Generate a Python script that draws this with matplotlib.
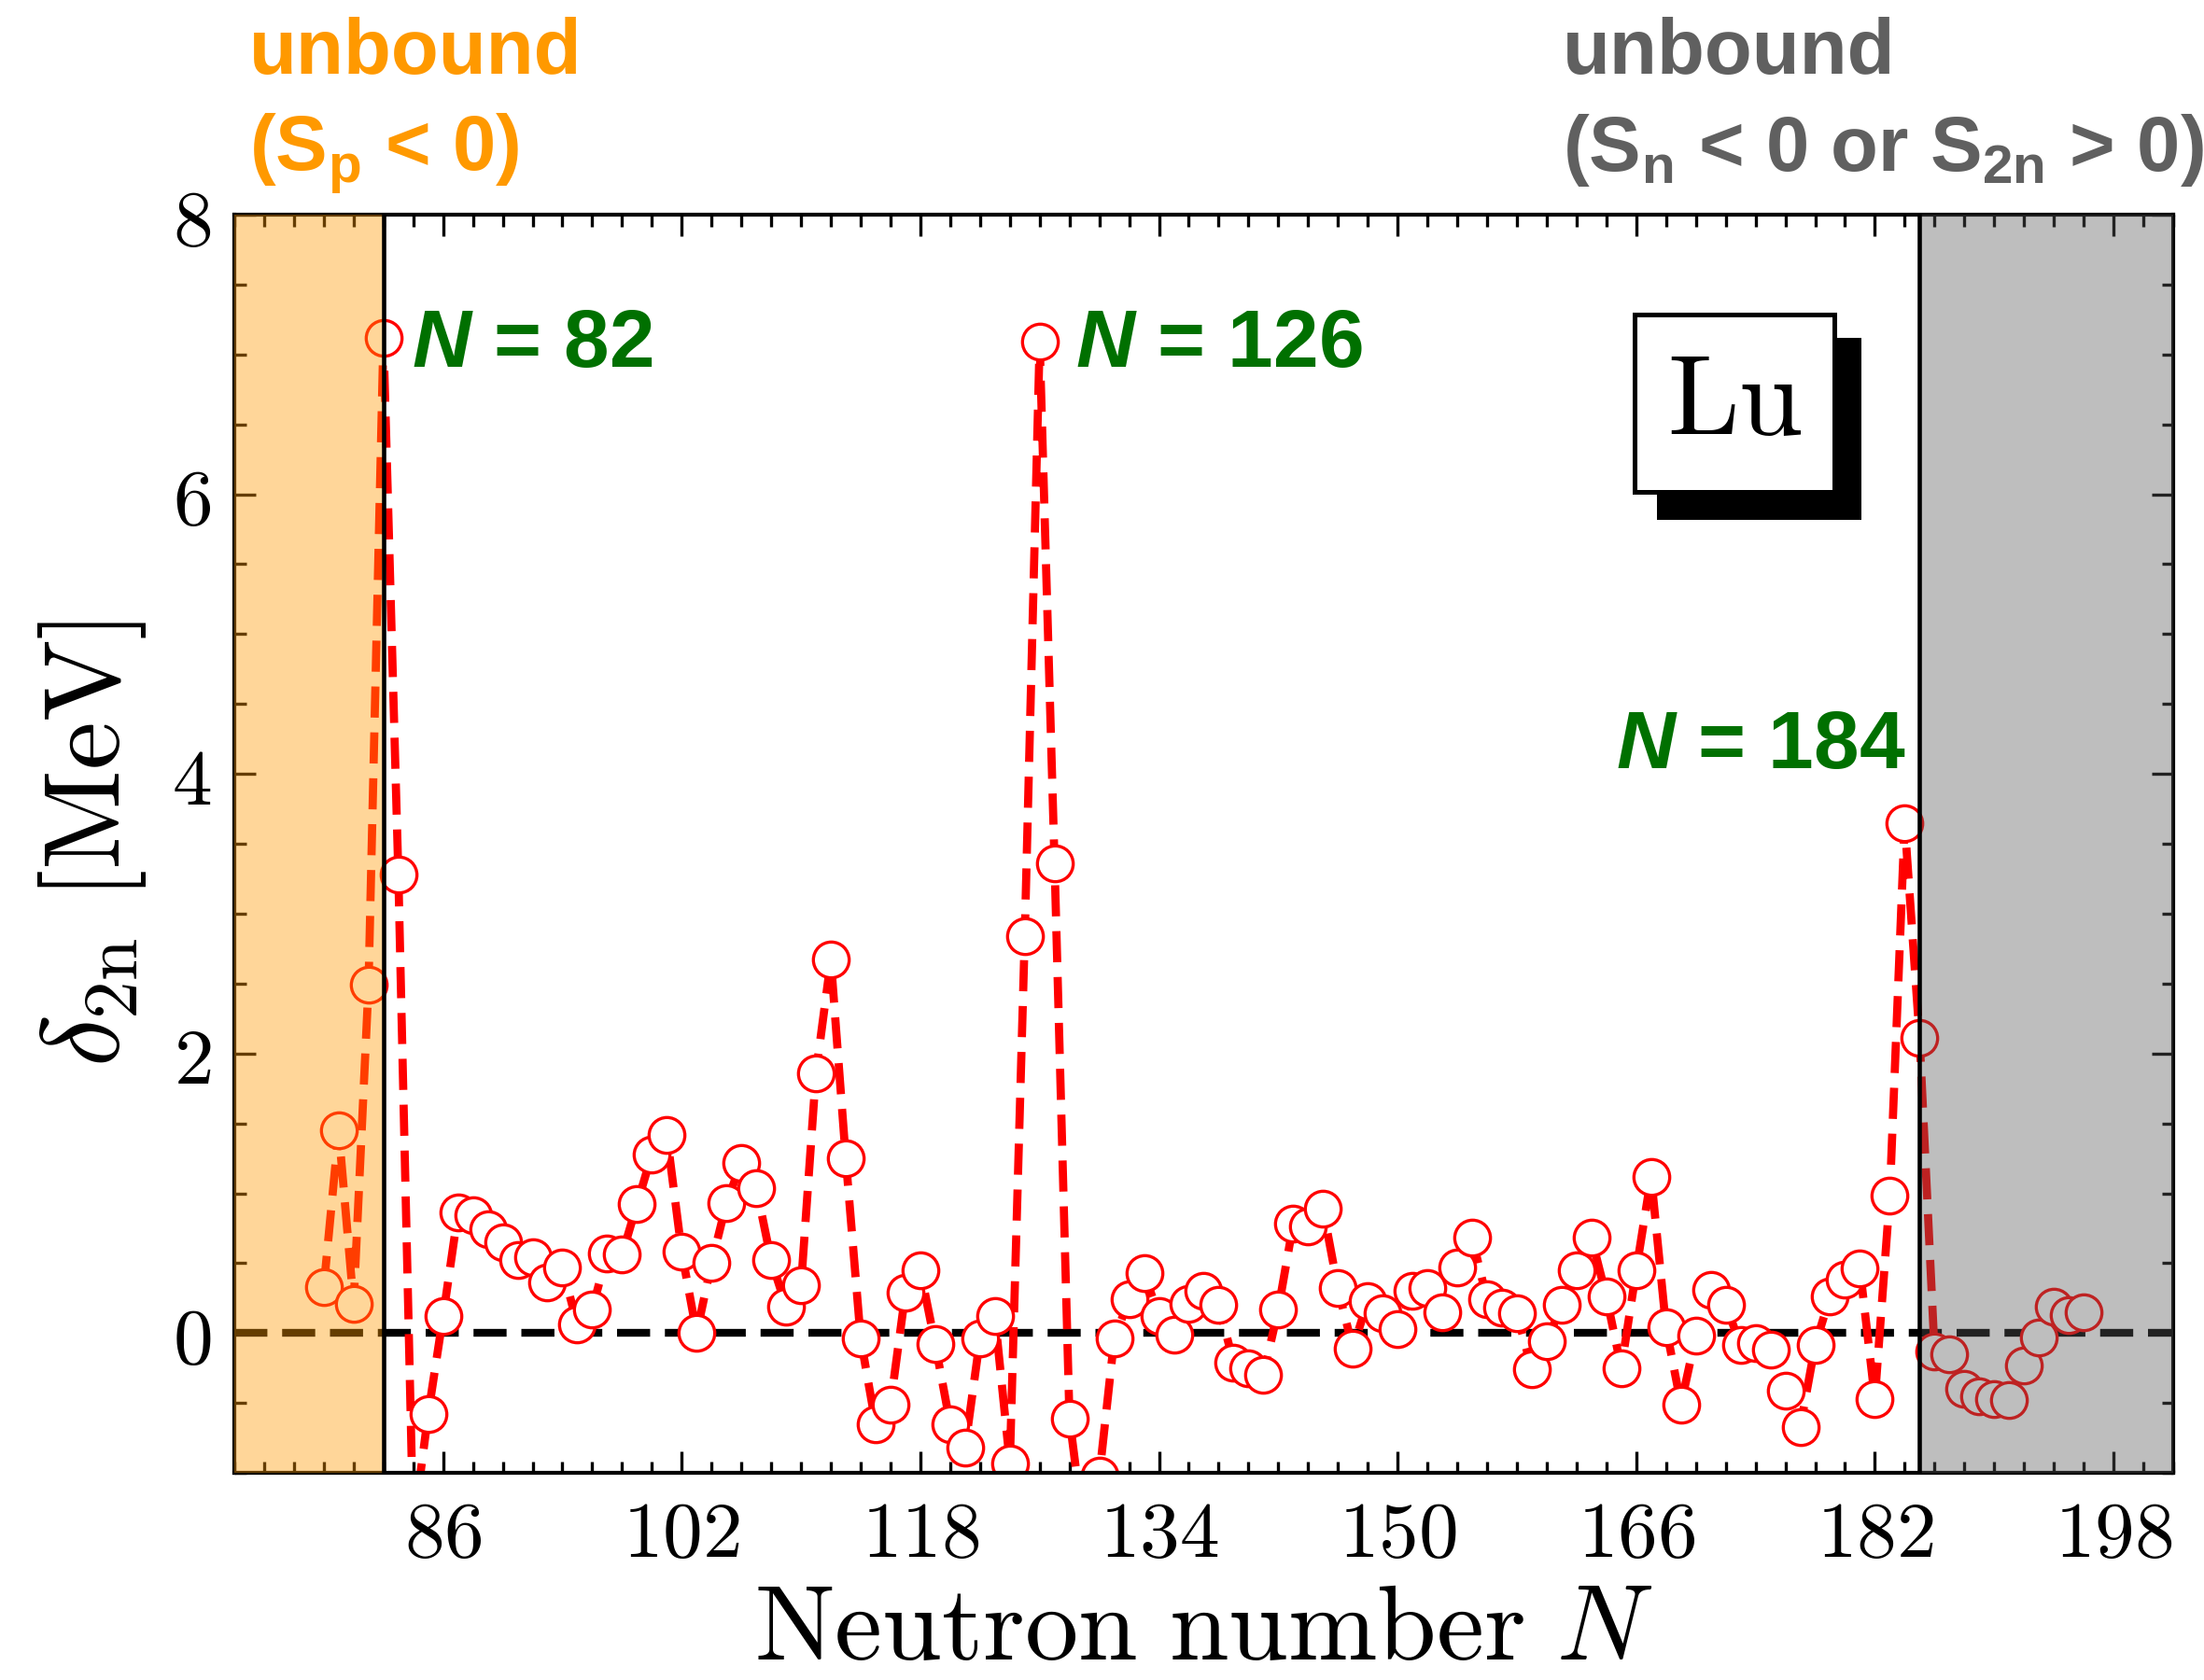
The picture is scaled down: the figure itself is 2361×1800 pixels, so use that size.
import matplotlib
matplotlib.use('Agg')
import matplotlib.pyplot as plt
from matplotlib.patches import Rectangle

# delta_2n values for Lu (N = 78 ... 196)
neutrons = list(range(78, 197))
delta_2n = [
    0.33, 1.45, 0.21, 2.49, 7.12, 3.28, -1.40, -0.58, 0.12, 0.86,   # 78-87
    0.84, 0.74, 0.65, 0.52, 0.54, 0.36, 0.47, 0.06, 0.17, 0.57,     # 88-97
    0.56, 0.92, 1.28, 1.42, 0.58, 0.00, 0.50, 0.93, 1.22, 1.04,     # 98-107
    0.52, 0.19, 0.34, 1.86, 2.67, 1.25, -0.04, -0.65, -0.51, 0.29,  # 108-117
    0.45, -0.08, -0.65, -0.82, -0.04, 0.12, -0.93, 2.84, 7.09, 3.36,  # 118-127
    -0.61, -1.45, -1.02, -0.04, 0.24, 0.43, 0.12, -0.01, 0.21, 0.30,  # 128-137
    0.20, -0.21, -0.25, -0.30, 0.17, 0.78, 0.76, 0.89, 0.32, -0.11,   # 138-147
    0.23, 0.14, 0.03, 0.30, 0.32, 0.15, 0.47, 0.68, 0.24, 0.18,       # 148-157
    0.14, -0.26, -0.06, 0.20, 0.45, 0.68, 0.26, -0.25, 0.45, 1.12,    # 158-167
    0.04, -0.51, -0.02, 0.31, 0.20, -0.085, -0.07, -0.12, -0.41, -0.67,  # 168-177
    -0.085, 0.26, 0.38, 0.46, -0.47, 0.98, 3.65, 2.11, -0.13, -0.15,  # 178-187
    -0.40, -0.45, -0.47, -0.48, -0.23, -0.03, 0.19, 0.13, 0.15,       # 188-196
]

proton_drip = 82
neutron_drip = 185
magic_numbers = [82, 126, 184]

x_ticks = [86, 102, 118, 134, 150, 166, 182, 198]
y_ticks = [0, 2, 4, 6, 8]

plt.rcParams['mathtext.fontset'] = 'cm'
plt.rcParams['mathtext.rm'] = 'Liberation Sans:bold'
plt.rcParams['mathtext.it'] = 'Liberation Sans:italic:bold'
plt.rcParams['mathtext.bf'] = 'Liberation Sans:bold'
plt.rcParams['lines.scale_dashes'] = False

fig = plt.figure(figsize=(2361 / 300, 1800 / 300), dpi=300)
ax = fig.add_axes([0.1063, 0.1233, 0.8797, 0.7489])

ax.axhline(0, color='black', lw=2.0, dashes=(8.5, 3.8), zorder=1)
ax.plot(neutrons, delta_2n, color='red', lw=2.1, dashes=(8, 3.8),
        marker='o', ms=9.2, mfc='white', mec='red', mew=0.8, zorder=2)

# unbound regions drawn as translucent overlays
ax.axvspan(72, proton_drip, color='#FF9900', alpha=0.4, lw=0, zorder=3)
ax.axvspan(neutron_drip, 202, color='#585858', alpha=0.39, lw=0, zorder=3)
ax.axvline(proton_drip, color='black', lw=1.1, zorder=4)
ax.axvline(neutron_drip, color='black', lw=1.1, zorder=4)

ax.set_xlim(72, 202)
ax.set_ylim(-1, 8)
ax.set_xticks(x_ticks)
ax.set_xticklabels(['$%d$' % t for t in x_ticks])
ax.set_xticks(range(72, 203, 2), minor=True)
ax.set_yticks(y_ticks)
ax.set_yticklabels(['$%d$' % t for t in y_ticks])
ax.set_yticks([v / 2 for v in range(-2, 17)], minor=True)
ax.tick_params(which='both', direction='in', top=True, right=True, width=0.8,
               labelsize=20.5, pad=6)
ax.tick_params(which='major', length=5.5)
ax.tick_params(which='minor', length=3)
for sp in ax.spines.values():
    sp.set_linewidth(1.0)

ax.set_xlabel(r'$\mathrm{Neutron\ number}\ N$', fontsize=27.5, labelpad=1)
ax.set_ylabel(r'$\delta_{2\mathrm{n}}\ [\mathrm{MeV}]$', fontsize=28, labelpad=6)

# magic number labels
green = '#007000'
lab_kw = dict(color=green, fontsize=21, family='Liberation Sans', weight='bold',
              math_fontfamily='custom', va='center', zorder=6)
ax.text(83.9, 7.06, r'$\mathit{N}$ = %d' % magic_numbers[0], ha='left', **lab_kw)
ax.text(128.4, 7.06, r'$\mathit{N}$ = %d' % magic_numbers[1], ha='left', **lab_kw)
ax.text(184.1, 4.19, r'$\mathit{N}$ = %d' % magic_numbers[2], ha='right', **lab_kw)

# element box with shadow
bx, by, bw, bh = 0.7222, 0.7797, 0.1030, 0.1409
ax.add_patch(Rectangle((bx + 0.0125, by - 0.020), bw, bh, transform=ax.transAxes,
                       facecolor='black', edgecolor='black', lw=1.2, zorder=7))
ax.add_patch(Rectangle((bx, by), bw, bh, transform=ax.transAxes,
                       facecolor='white', edgecolor='black', lw=1.2, zorder=8))
ax.text(bx + bw / 2, by + bh / 2, r'$\mathrm{Lu}$', transform=ax.transAxes,
        ha='center', va='center', fontsize=29.5, zorder=9)

# headers above the plot
top_kw = dict(fontsize=20, family='Liberation Sans', weight='bold',
              math_fontfamily='custom', va='baseline', ha='left')
fig.text(0.1131, 0.9561, 'unbound', color='#FF9900', **top_kw)
fig.text(0.1131, 0.8983, r'(S$_{\mathrm{p}}$ < 0)', color='#FF9900', **top_kw)
fig.text(0.709, 0.9561, 'unbound', color='#606060', **top_kw)
fig.text(0.709, 0.8983, r'(S$_{\mathrm{n}}$ < 0 or S$_{\mathrm{2n}}$ > 0)',
         color='#606060', **top_kw)

fig.savefig('out.png', dpi=300)
